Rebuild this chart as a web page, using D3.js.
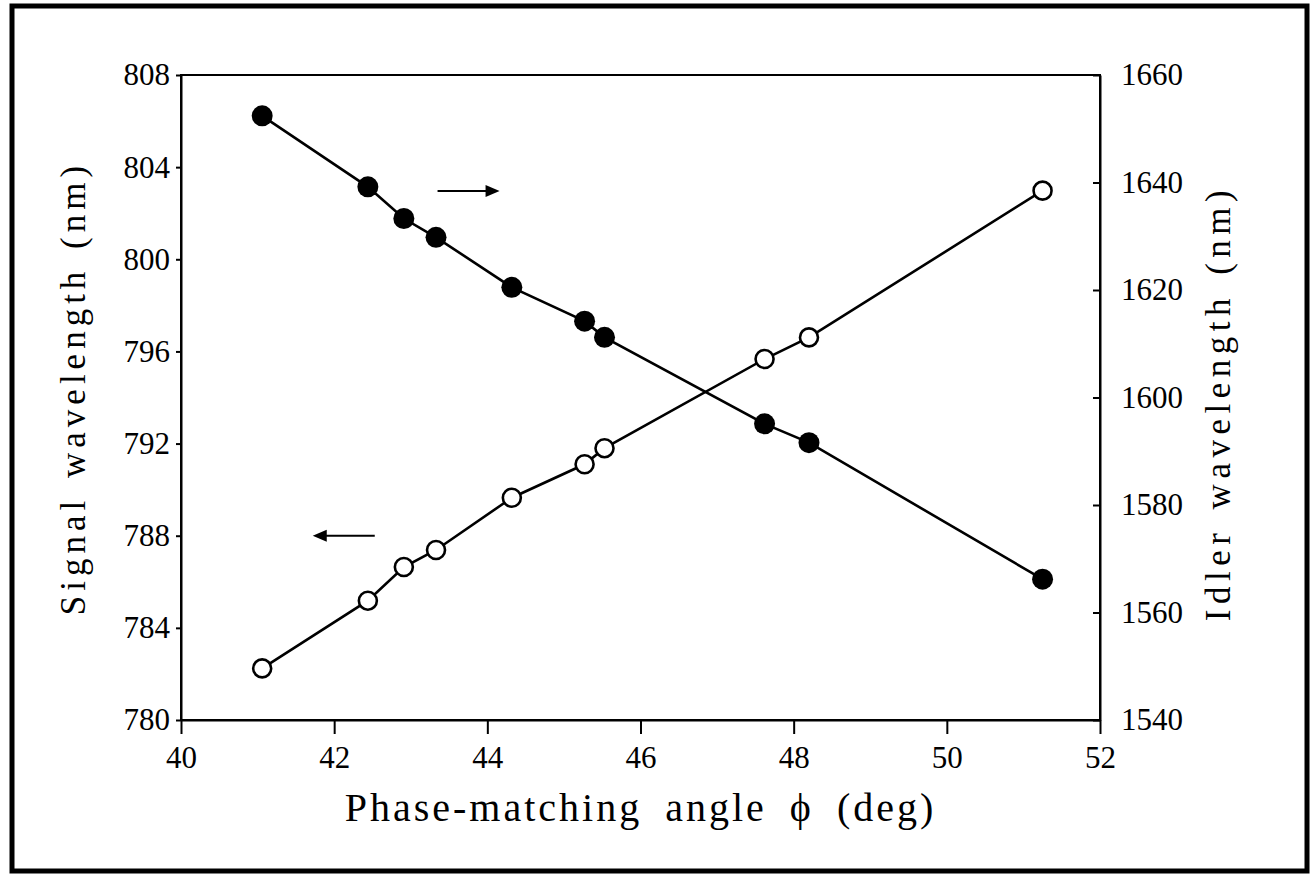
<!DOCTYPE html>
<html>
<head>
<meta charset="utf-8">
<script src="https://cdn.jsdelivr.net/npm/d3@7"></script>
<style>
    body { margin: 0; background: #fff; }
    svg { display: block; }
    .axis text { font-family: "Liberation Serif", "Times New Roman", serif; font-size: 31px; fill: #000; }
    .axis line, .axis path { stroke: #000; stroke-width: 2; }
    .title { font-family: "Liberation Serif", "Times New Roman", serif; fill: #000; }
</style>
</head>
<body>
<div class="Chart"></div>
<script>
// phase-matching angle (deg), shared by both series
const angles = [41.06, 42.44, 42.91, 43.33, 44.32, 45.27, 45.53, 47.62, 48.20, 51.25];
// signal wavelength (nm), left axis, open circles
const signal = [782.24, 785.18, 786.64, 787.38, 789.65, 791.1, 791.8, 795.67, 796.61, 802.98];
// idler wavelength (nm), right axis, filled circles
const idler = [1652.4, 1639.2, 1633.3, 1629.8, 1620.5, 1614.2, 1611.2, 1595.1, 1591.6, 1566.2];

const xTicks = [40, 42, 44, 46, 48, 50, 52];
const signalTicks = [780, 784, 788, 792, 796, 800, 804, 808];
const idlerTicks = [1540, 1560, 1580, 1600, 1620, 1640, 1660];

const margin = {top: 75, right: 213, bottom: 155, left: 181},
    W = 1313, H = 875,
    width = W - margin.left - margin.right,
    height = H - margin.top - margin.bottom;

const x = d3.scaleLinear().domain([40, 52]).range([0, width]);
const yS = d3.scaleLinear().domain([780, 808]).range([height, 0]);
const yI = d3.scaleLinear().domain([1540, 1660]).range([height, 0]);

const svg = d3.select('.Chart')
    .append('svg')
    .attr('width', W)
    .attr('height', H);

// outer frame
svg.append('rect')
    .attr('x', 12).attr('y', 6)
    .attr('width', 1295).attr('height', 865)
    .attr('fill', 'none')
    .attr('stroke', '#000')
    .attr('stroke-width', 5);

const main = svg.append('g')
    .attr('transform', 'translate(' + margin.left + ',' + margin.top + ')');

// plot box
main.append('rect')
    .attr('width', width).attr('height', height)
    .attr('fill', 'none')
    .attr('stroke', '#000')
    .attr('stroke-width', 2);

const fmt = d3.format('d');

main.append('g')
    .attr('class', 'axis')
    .attr('transform', 'translate(0,' + height + ')')
    .call(d3.axisBottom(x).tickValues(xTicks).tickFormat(fmt).tickSizeInner(14).tickSizeOuter(0).tickPadding(12));

main.append('g')
    .attr('class', 'axis')
    .call(d3.axisLeft(yS).tickValues(signalTicks).tickFormat(fmt).tickSizeInner(5).tickSizeOuter(0).tickPadding(6));

main.append('g')
    .attr('class', 'axis')
    .attr('transform', 'translate(' + width + ',0)')
    .call(d3.axisRight(yI).tickValues(idlerTicks).tickFormat(fmt).tickSizeInner(-7).tickSizeOuter(0).tickPadding(21));

// lines
const lineS = d3.line().x((d, i) => x(angles[i])).y(d => yS(d));
const lineI = d3.line().x((d, i) => x(angles[i])).y(d => yI(d));

main.append('path').datum(signal)
    .attr('d', lineS).attr('fill', 'none').attr('stroke', '#000').attr('stroke-width', 2.6);
main.append('path').datum(idler)
    .attr('d', lineI).attr('fill', 'none').attr('stroke', '#000').attr('stroke-width', 2.6);

main.selectAll('.open').data(signal).enter().append('circle')
    .attr('class', 'open')
    .attr('cx', (d, i) => x(angles[i]))
    .attr('cy', d => yS(d))
    .attr('r', 9)
    .attr('fill', '#fff').attr('stroke', '#000').attr('stroke-width', 2.6);

main.selectAll('.filled').data(idler).enter().append('circle')
    .attr('class', 'filled')
    .attr('cx', (d, i) => x(angles[i]))
    .attr('cy', d => yI(d))
    .attr('r', 10.5)
    .attr('fill', '#000');

// arrows pointing to the axis each series belongs to
const arrow = (x1, x2, y) => {
    const dir = x2 > x1 ? 1 : -1;
    main.append('line')
        .attr('x1', x1).attr('x2', x2 - dir * 8).attr('y1', y).attr('y2', y)
        .attr('stroke', '#000').attr('stroke-width', 2);
    main.append('path')
        .attr('d', 'M' + x2 + ',' + y + 'L' + (x2 - dir * 14) + ',' + (y - 6) + 'L' + (x2 - dir * 14) + ',' + (y + 6) + 'Z')
        .attr('fill', '#000');
};
arrow(x(43.35), x(44.16), yI(1638.4));
arrow(x(42.53), x(41.72), yS(788.0));

// titles
svg.append('text')
    .attr('class', 'title')
    .attr('x', (margin.left + margin.left + width) / 2)
    .attr('y', 821)
    .attr('text-anchor', 'middle')
    .style('font-size', '40px')
    .style('letter-spacing', '3px')
    .style('word-spacing', '10px')
    .text('Phase-matching angle \u03D5 (deg)');

svg.append('text')
    .attr('class', 'title')
    .attr('transform', 'translate(85,388) rotate(-90)')
    .attr('text-anchor', 'middle')
    .style('font-size', '35px')
    .style('letter-spacing', '5px')
    .style('word-spacing', '4px')
    .text('Signal wavelength (nm)');

svg.append('text')
    .attr('class', 'title')
    .attr('transform', 'translate(1230,403) rotate(-90)')
    .attr('text-anchor', 'middle')
    .style('font-size', '35px')
    .style('letter-spacing', '5.5px')
    .style('word-spacing', '4px')
    .text('Idler wavelength (nm)');
</script>
</body>
</html>
